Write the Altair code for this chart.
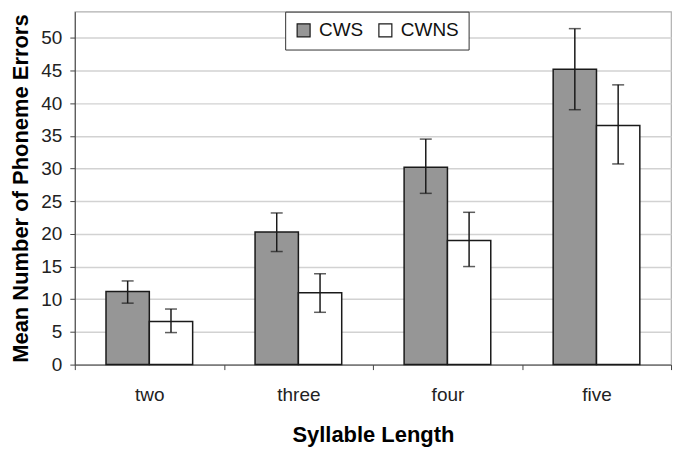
import altair as alt
import pandas as pd

categories = ["two", "three", "four", "five"]
groups = ["CWS", "CWNS"]
cws_mean = [11.2, 20.3, 30.2, 45.2]
cws_hi = [12.8, 23.2, 34.5, 51.4]
cws_lo = [9.4, 17.3, 26.2, 39.0]
cwns_mean = [6.6, 11.0, 19.0, 36.6]
cwns_hi = [8.5, 13.9, 23.3, 42.8]
cwns_lo = [4.9, 8.0, 15.0, 30.7]

rows = []
for i, c in enumerate(categories):
    rows.append({"cat": c, "grp": "CWS", "mean": cws_mean[i], "hi": cws_hi[i], "lo": cws_lo[i]})
    rows.append({"cat": c, "grp": "CWNS", "mean": cwns_mean[i], "hi": cwns_hi[i], "lo": cwns_lo[i]})
df = pd.DataFrame(rows)

FONT = "Liberation Sans"
DARK = "#1a1a1a"

x_axis = alt.Axis(title="Syllable Length", labelAngle=0, tickBand="extent",
                  labelFontSize=19, labelColor="#222", labelPadding=16,
                  titleFontSize=22, titleFontWeight="bold", titlePadding=20,
                  titleColor="black", domainColor="#444", tickColor="#444",
                  tickSize=5, grid=False, labelFont=FONT, titleFont=FONT)
x_scale = alt.Scale(paddingInner=0, paddingOuter=0)
x_enc = alt.X("cat:N", sort=categories, scale=x_scale, axis=x_axis)
xoff = alt.XOffset("grp:N", sort=groups, scale=alt.Scale(paddingInner=0, paddingOuter=0.72))
y_scale = alt.Scale(domain=[0, 54], nice=False)
y_axis = alt.Axis(title="Mean Number of Phoneme Errors", values=list(range(0, 55, 5)),
                  labelOverlap=False,
                  labelFontSize=19, labelColor="#222", labelPadding=8,
                  titleFontSize=22, titleFontWeight="bold", titlePadding=8, titleColor="black",
                  domainColor="#444", tickColor="#444", tickSize=5,
                  gridColor="#d2d2d2", gridWidth=1.5, labelFont=FONT, titleFont=FONT)

base = alt.Chart(df)

bars = base.mark_bar(stroke=DARK, strokeWidth=1.5).encode(
    x=x_enc,
    xOffset=xoff,
    y=alt.Y("mean:Q", scale=y_scale, axis=y_axis),
    fill=alt.Fill("grp:N", sort=groups,
                  scale=alt.Scale(domain=groups, range=["#969696", "#ffffff"]),
                  legend=alt.Legend(title=None, orient="none", direction="horizontal",
                                    legendX=211, legendY=0,
                                    fillColor="white", strokeColor="#333",
                                    padding=9, labelFontSize=19, labelFont=FONT,
                                    labelColor="#111", symbolType="square",
                                    symbolSize=169, symbolStrokeColor=DARK,
                                    symbolStrokeWidth=1.2, columnPadding=12,
                                    labelOffset=6)),
)

rules = base.mark_rule(color=DARK, strokeWidth=1.5).encode(
    x=x_enc, xOffset=xoff,
    y=alt.Y("lo:Q", scale=y_scale, axis=y_axis), y2="hi:Q")

caps_hi = base.mark_tick(color=DARK, thickness=1.5, size=12, orient="horizontal").encode(
    x=x_enc, xOffset=xoff, y=alt.Y("hi:Q", scale=y_scale, axis=y_axis))
caps_lo = base.mark_tick(color=DARK, thickness=1.5, size=12, orient="horizontal").encode(
    x=x_enc, xOffset=xoff, y=alt.Y("lo:Q", scale=y_scale, axis=y_axis))

chart = alt.layer(bars, rules, caps_hi, caps_lo).properties(
    width=598, height=354,
    padding={"left": 1, "top": 2, "right": 6, "bottom": 5},
    background="white",
).configure_view(stroke="#b0b0b0", strokeWidth=1.2)

chart.save("out.html", embed_options={"renderer": "svg", "actions": False})
